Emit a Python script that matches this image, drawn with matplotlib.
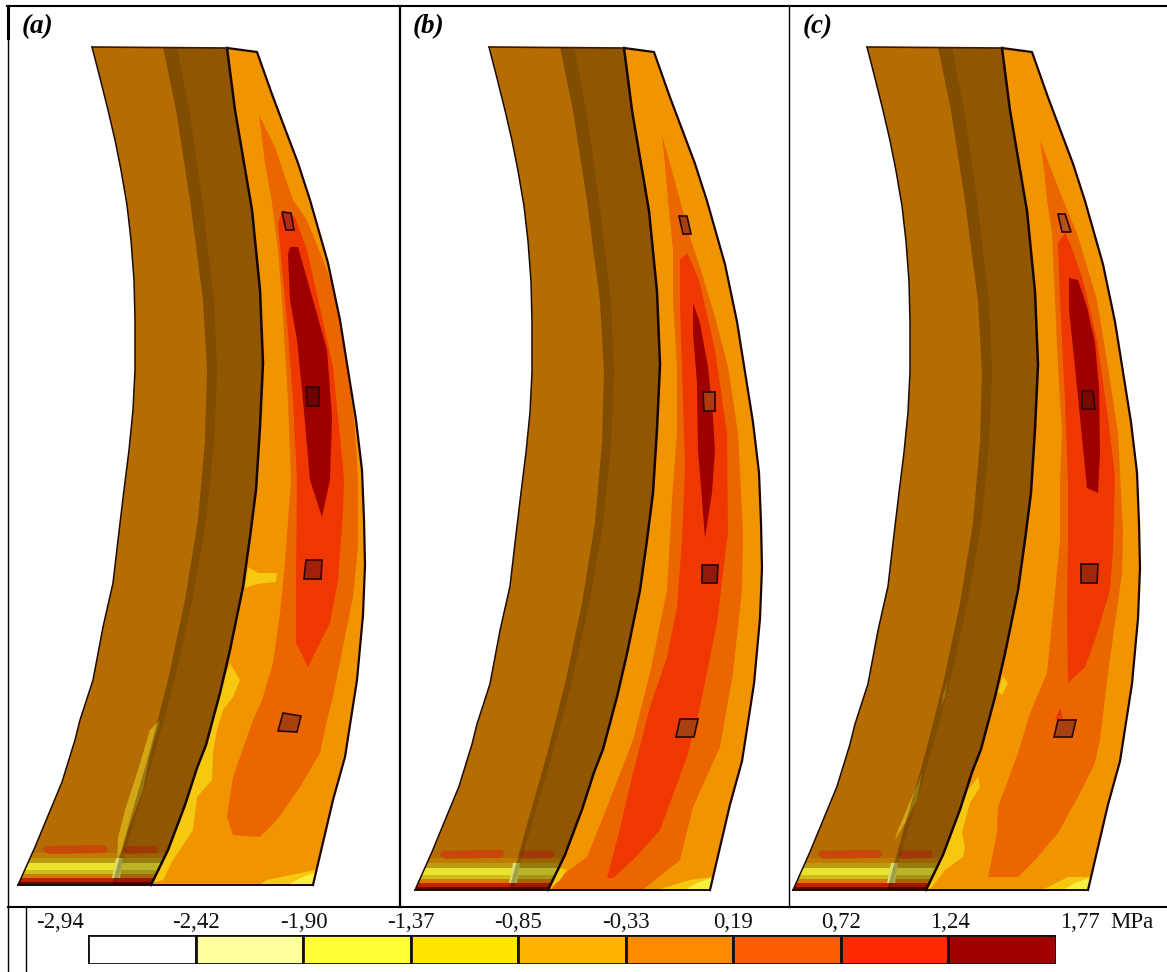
# -*- coding: utf-8 -*-
# three stress maps of the arch section with a shared legend strip
import numpy as np
import matplotlib
matplotlib.use('Agg')
import matplotlib.pyplot as plt
from matplotlib.patches import Polygon

# legend
levels = ['-2,94', '-2,42', '-1,90', '-1,37', '-0,85', '-0,33', '0,19', '0,72', '1,24', '1,77']
level_colors = ['#ffffff', '#ffff9e', '#ffff33', '#ffe600', '#ffb400',
                '#ff8a00', '#ff5e00', '#ff2a00', '#a00000']
level_x = [60, 196, 304, 411, 518, 626, 733, 841, 950, 1080]

# section outline, traced on panel (a)
left_edge = [(92, 47), (100, 78), (108, 110), (115, 140), (121, 170), (127, 205), (131, 240),
             (134, 280), (135, 320), (135, 370), (133, 410), (129, 450), (124, 490), (118, 540),
             (113, 583), (103, 627), (93, 680), (80, 720), (75, 740), (62, 782), (35, 847), (18, 885)]
joint = [(227, 48), (235, 110), (244, 163), (252, 210), (260, 290), (263, 363), (260, 427),
         (256, 490), (250, 537), (243, 587), (230, 650), (220, 693), (206, 745), (197, 768),
         (185, 805), (168, 850), (151, 885)]
right_edge = [(257, 52), (273, 97), (298, 163), (310, 200), (328, 263), (340, 320), (348, 370),
              (356, 420), (362, 470), (364, 520), (365, 565), (363, 615), (357, 680), (345, 757),
              (333, 800), (313, 885)]
shade_edge = [(163, 47), (176, 110), (190, 200), (203, 300), (207, 370), (205, 440), (198, 520),
              (185, 600), (168, 680), (150, 750), (130, 820), (112, 885)]

# horizontal layers at the foot of the section: top, bottom, colour
foot_layers = [(853, 858, '#c07c00'), (858, 863, '#bc9c12'), (863, 870, '#ece230'),
               (870, 874, '#ccbc1c'), (874, 878, '#d47c00'), (878, 882, '#c42000'),
               (882, 886, '#700000')]
foot_patches = [[(45, 846), (105, 845), (108, 849), (105, 853), (48, 854), (43, 850)],
                [(126, 846), (157, 846), (157, 853), (126, 854), (123, 850)]]
foot_light = [(116, 858), (123, 858), (120, 878), (112, 878)]
corner_tip = [(314, 873), (300, 878), (288, 885), (314, 885)]

# panel (a)
a_orange = [(259, 115), (265, 163), (272, 203), (278, 250), (282, 300), (288, 400), (291, 480),
            (285, 563), (280, 613), (273, 663), (262, 700), (253, 720), (233, 777), (227, 817),
            (233, 835), (260, 837), (277, 820), (300, 787), (320, 753), (327, 720),
            (333, 697), (353, 597), (358, 547), (358, 480), (355, 430), (348, 370), (338, 300),
            (323, 260), (307, 220), (293, 200), (285, 177), (275, 147)]
a_red = [(283, 210), (278, 223), (282, 267), (288, 333), (293, 400), (297, 480), (296, 580),
         (296, 643), (308, 667), (330, 623), (338, 580), (343, 513), (344, 480), (343, 467),
         (333, 367), (322, 317), (307, 250), (295, 217)]
a_dark = [(290, 247), (298, 247), (313, 300), (327, 350), (332, 417), (330, 480), (322, 517),
          (310, 480), (303, 400), (297, 340), (290, 300), (288, 255)]
a_tags = [[(282, 212), (291, 213), (294, 230), (286, 230)], [(306, 387), (319, 387), (319, 406), (307, 406)],
          [(306, 560), (322, 560), (321, 579), (304, 579)], [(283, 713), (301, 716), (297, 732), (278, 731)]]
a_tag_colors = ['#b22a18', '#6e0000', '#a22008', '#a84010']
a_yellow = [[(248, 567), (258, 573), (277, 573), (276, 582), (257, 584), (245, 588)],
            [(230, 663), (240, 680), (233, 697), (223, 710), (217, 730), (213, 753), (212, 780), (197, 797),
             (193, 830), (173, 860), (163, 880), (145, 885), (170, 830), (200, 750), (220, 690)],
            [(315, 870), (267, 880), (257, 886), (315, 886)]]
a_streaks = [[(160, 720), (150, 755), (143, 790), (128, 830), (122, 850), (117, 860), (118, 838),
              (125, 810), (138, 770), (150, 730)]]

# panel (b)
b_orange = [(662, 135), (665, 165), (668, 200), (673, 250), (673, 300), (677, 367), (677, 433),
            (672, 500), (670, 540), (667, 590), (650, 673), (633, 740), (607, 807), (587, 857),
            (560, 877), (550, 892), (640, 892), (680, 860), (693, 807), (720, 747), (733, 673),
            (742, 590), (743, 533), (738, 433), (728, 367), (715, 317), (700, 267), (690, 237),
            (680, 200)]
b_red = [(687, 253), (680, 260), (680, 307), (683, 400), (685, 467), (682, 540), (677, 607),
         (667, 657), (650, 707), (633, 773), (617, 840), (607, 878), (613, 878), (633, 860),
         (660, 830), (687, 757), (700, 707), (717, 623), (725, 557), (728, 533), (727, 433),
         (715, 350), (700, 283), (692, 263)]
b_dark = [(693, 303), (700, 323), (708, 367), (713, 417), (715, 450), (712, 493), (705, 538),
          (702, 500), (698, 450), (697, 383), (693, 333)]
b_tags = [[(679, 216), (687, 216), (691, 234), (683, 234)], [(703, 392), (715, 392), (715, 411), (704, 411)],
          [(702, 565), (718, 565), (717, 583), (702, 583)], [(680, 719), (698, 719), (694, 737), (676, 737)]]
b_tag_colors = ['#a8400e', '#b03a10', '#8f1a08', '#a84010']
b_yellow = [[(713, 877), (690, 880), (650, 892), (713, 892)],
            [(557, 867), (567, 870), (560, 880), (548, 890)]]
b_streaks = []

# panel (c)
c_orange = [(1040, 140), (1044, 170), (1047, 200), (1052, 233), (1055, 300), (1058, 367), (1062, 433),
            (1060, 480), (1060, 540), (1052, 623), (1047, 673), (1030, 713), (1018, 753), (998, 807),
            (997, 833), (988, 877), (1018, 877), (1035, 860), (1058, 833), (1078, 797), (1095, 763),
            (1100, 740), (1108, 673), (1115, 623), (1122, 573), (1123, 533), (1118, 433), (1108, 367),
            (1097, 300), (1077, 233), (1063, 200)]
c_red = [(1065, 233), (1058, 243), (1060, 300), (1065, 400), (1068, 483), (1068, 540), (1067, 607),
         (1068, 683), (1085, 667), (1095, 640), (1110, 590), (1113, 550), (1115, 477), (1108, 417),
         (1097, 340), (1083, 280), (1070, 243)]
c_red_spot = [(1060, 708), (1063, 718), (1055, 720)]
c_dark = [(1069, 278), (1078, 280), (1087, 307), (1095, 343), (1099, 387), (1100, 453), (1098, 493),
          (1087, 488), (1080, 417), (1075, 367), (1069, 310)]
c_tags = [[(1058, 214), (1065, 214), (1071, 232), (1062, 232)], [(1082, 391), (1093, 391), (1095, 409), (1082, 409)],
          [(1081, 564), (1098, 564), (1097, 583), (1081, 583)], [(1058, 720), (1076, 720), (1072, 737), (1054, 737)]]
c_tag_colors = ['#b4501a', '#7a0a00', '#a02808', '#a84010']
c_yellow = [[(978, 777), (980, 787), (970, 803), (962, 833), (965, 847), (963, 857), (945, 870),
             (932, 887), (925, 892), (942, 850), (968, 790)],
            [(1003, 676), (1008, 683), (1002, 695), (998, 692)],
            [(1090, 877), (1068, 877), (1038, 892), (1090, 892)]]
c_streaks = [[(948, 680), (945, 697), (941, 707), (943, 695)],
             [(922, 773), (917, 800), (905, 823), (895, 840), (898, 830), (912, 797)]]

ORANGE1 = '#f09400'
ORANGE2 = '#ec6600'
RED = '#ee3800'
DARK = '#9e0000'
YELLOW = '#f6c810'
PALE = '#f8f040'
BROWN = '#b56c03'

fig = plt.figure(figsize=(11.67, 9.72), dpi=100)
ax = fig.add_axes([0, 0, 1, 1])
ax.set_xlim(0, 1167)
ax.set_ylim(972, 0)
ax.axis('off')


def warp(points, dx, k):
    # panels (b) and (c) are the same section moved over and very slightly taller
    return [(x + dx, 47 + (y - 47) * k) for x, y in points]


def draw_panel(dx, k, orange, red, dark, yellows, streaks, tags, tag_colors):
    left = warp(left_edge, dx, k)
    mid = warp(joint, dx, k)
    right = warp(right_edge, dx, k)
    shade = warp(shade_edge, dx, k)

    col = Polygon(left + mid[::-1], closed=True, fc=BROWN, ec='none', zorder=2)
    ax.add_patch(col)
    rim = Polygon(mid + right[::-1], closed=True, fc=ORANGE1, ec='none', zorder=2)
    ax.add_patch(rim)

    # layers at the foot, then streaks, then the darker half on top of those
    for top, bottom, c in foot_layers:
        y0 = 47 + (top - 47) * k
        y1 = 47 + (bottom - 47) * k
        p = ax.fill([dx, dx + 200, dx + 200, dx], [y0, y0, y1, y1], color=c, lw=0, zorder=3)[0]
        p.set_clip_path(col)
    for pts in foot_patches:
        ax.add_patch(Polygon(warp(pts, dx, k), closed=True, fc='#c8480a', ec='none', zorder=3))
    ax.add_patch(Polygon(warp(foot_light, dx, k), closed=True, fc='#dcdc68', ec='none', zorder=3))
    for pts in streaks:
        ax.add_patch(Polygon(pts, closed=True, fc='#d2a514', ec='none', zorder=3))

    dark_half = ax.fill(*zip(*(shade + mid[::-1])), color='black', alpha=0.2, lw=0, zorder=4)[0]
    dark_half.set_clip_path(col)
    band = [(x + 14 - 0.012 * (y - 47), y) for x, y in shade]
    dark_band = ax.fill(*zip(*(shade + band[::-1])), color='black', alpha=0.1, lw=0, zorder=4)[0]
    dark_band.set_clip_path(col)

    # contours on the outer ring
    for pts, c, z in [(orange, ORANGE2, 3), (red, RED, 4), (dark, DARK, 5)]:
        p = ax.fill(*zip(*pts), color=c, lw=0, zorder=z)[0]
        p.set_clip_path(rim)
    for pts in yellows:
        p = ax.fill(*zip(*pts), color=YELLOW, lw=0, zorder=5)[0]
        p.set_clip_path(rim)
    tip = ax.fill(*zip(*warp(corner_tip, dx, k)), color=PALE, lw=0, zorder=5)[0]
    tip.set_clip_path(rim)
    for pts, c in zip(tags, tag_colors):
        ax.add_patch(Polygon(pts, closed=True, fc=c, ec='#2a0505', lw=1.2, zorder=6))

    # black outlines
    ax.plot(*zip(*left), color='#1c0c00', lw=1.1, zorder=7)
    ax.plot(*zip(*mid), color='#140500', lw=1.8, zorder=7)
    ax.plot(*zip(*(mid[:1] + right)), color='#1c0600', lw=1.6, zorder=7)
    ax.plot(*zip(*(left[:1] + mid[:1])), color='#3a1a00', lw=1.2, zorder=7)
    ax.plot(*zip(*(left[-1:] + mid[-1:] + right[-1:])), color='#1a0a00', lw=1.4, zorder=7)


draw_panel(0, 1.0, a_orange, a_red, a_dark, a_yellow, a_streaks, a_tags, a_tag_colors)
draw_panel(397, 1.006, b_orange, b_red, b_dark, b_yellow, b_streaks, b_tags, b_tag_colors)
draw_panel(775, 1.006, c_orange, c_red, c_dark, c_yellow, c_streaks, c_tags, c_tag_colors)
ax.fill(*zip(*c_red_spot), color=RED, lw=0, zorder=5)

# table lines
ax.plot([7, 1167], [6, 6], color='black', lw=1.5, zorder=8)
ax.plot([8, 8], [6, 38], color='black', lw=2.2, zorder=8)
ax.plot([8, 8], [38, 972], color='black', lw=1.0, zorder=8)
ax.plot([400, 400], [6, 907], color='black', lw=1.6, zorder=8)
ax.plot([788.5, 788.5], [6, 907], color='black', lw=1.0, zorder=8)
ax.plot([8, 1167], [907, 907], color='black', lw=1.5, zorder=8)
ax.plot([25.5, 25.5], [907, 972], color='black', lw=1.0, zorder=8)

# panel letters
for name, x in zip(['(a)', '(b)', '(c)'], [22, 413, 803]):
    ax.text(x, 27, name, family='Liberation Serif', style='italic', weight='bold',
            fontsize=19.5, va='center', ha='left', color='black', zorder=9)

# legend
for lab, x in zip(levels, level_x):
    ax.text(x, 922, lab, family='Liberation Serif', fontsize=16.5, va='center', ha='center', color='#111111')
ax.text(1132, 922, 'MPa', family='Liberation Serif', fontsize=16.5, va='center', ha='center', color='#111111')

cax = fig.add_axes([88 / 1167, 1 - 964 / 972, (1056 - 88) / 1167, 29 / 972])
cax.bar(np.arange(len(level_colors)), np.ones(len(level_colors)), width=1.0,
        color=level_colors, edgecolor='#111111', linewidth=2.0)
cax.set_xlim(-0.5, len(level_colors) - 0.5)
cax.set_ylim(0, 1)
cax.axis('off')

plt.savefig('out.png', dpi=100)
